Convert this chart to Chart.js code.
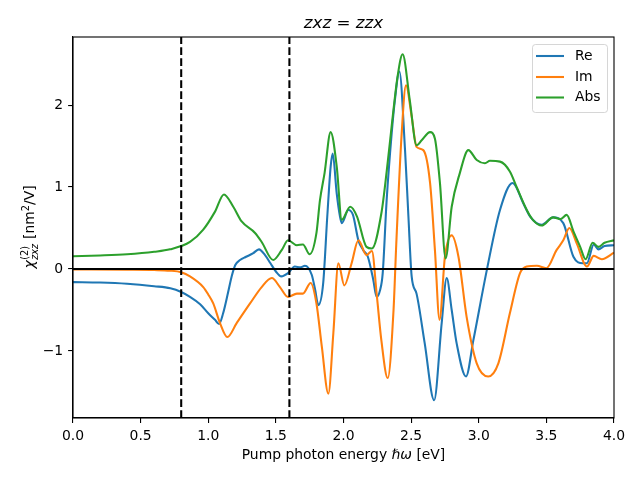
<!DOCTYPE html>
<html>
<head>
<meta charset="utf-8">
<script src="https://cdn.jsdelivr.net/npm/chart.js@4.4.1/dist/chart.umd.min.js"></script>
<style>
  body { margin: 0; background: #fff; }
  #wrap { width: 640px; height: 480px; }
</style>
</head>
<body>
<div id="wrap"><canvas id="grafica" width="640" height="480"></canvas></div>
<script>
// curvas
const reX = [0, 0.2, 0.4, 0.6, 0.72, 0.8, 0.865, 0.94, 1.0, 1.05, 1.08, 1.11, 1.146, 1.173, 1.2, 1.235, 1.28, 1.33, 1.375, 1.42, 1.46, 1.5, 1.54, 1.59, 1.64, 1.68, 1.715, 1.765, 1.79, 1.814, 1.85, 1.88, 1.905, 1.92, 1.95, 1.974, 1.987, 2.036, 2.07, 2.11, 2.146, 2.18, 2.22, 2.245, 2.27, 2.29, 2.319, 2.356, 2.38, 2.413, 2.455, 2.48, 2.504, 2.54, 2.6, 2.67, 2.726, 2.763, 2.8, 2.837, 2.906, 2.96, 3.06, 3.157, 3.25, 3.33, 3.38, 3.465, 3.55, 3.625, 3.7, 3.77, 3.8, 3.85, 3.885, 3.93, 4.0];
const reY = [-0.16, -0.165, -0.18, -0.21, -0.235, -0.28, -0.34, -0.43, -0.54, -0.62, -0.67, -0.54, -0.29, -0.09, 0.05, 0.11, 0.15, 0.19, 0.24, 0.17, 0.07, -0.03, -0.09, -0.05, 0.03, 0.02, 0.04, -0.07, -0.25, -0.44, -0.17, 0.64, 1.25, 1.41, 0.92, 0.64, 0.56, 0.72, 0.66, 0.35, 0.23, 0.15, -0.13, -0.34, -0.26, -0.05, 0.84, 1.65, 2.06, 2.41, 1.45, 0.64, -0.09, -0.30, -0.90, -1.6, -0.66, -0.11, -0.5, -0.91, -1.31, -0.87, -0.01, 0.72, 1.05, 0.80, 0.64, 0.54, 0.63, 0.56, 0.15, 0.07, 0.07, 0.30, 0.24, 0.28, 0.29];

const imX = [0, 0.4, 0.6, 0.717, 0.8, 0.865, 0.963, 1.0, 1.037, 1.087, 1.141, 1.21, 1.309, 1.395, 1.47, 1.53, 1.59, 1.655, 1.7, 1.757, 1.8, 1.84, 1.888, 1.925, 1.962, 2.006, 2.06, 2.11, 2.17, 2.21, 2.245, 2.28, 2.327, 2.37, 2.39, 2.43, 2.462, 2.504, 2.54, 2.59, 2.64, 2.676, 2.71, 2.75, 2.8, 2.85, 2.91, 2.985, 3.07, 3.145, 3.23, 3.305, 3.355, 3.43, 3.5, 3.575, 3.625, 3.67, 3.725, 3.8, 3.85, 3.91, 4.0];
const imY = [-0.005, -0.008, -0.012, -0.02, -0.04, -0.09, -0.22, -0.31, -0.42, -0.66, -0.83, -0.66, -0.42, -0.22, -0.11, -0.22, -0.34, -0.30, -0.30, -0.17, -0.42, -0.95, -1.52, -0.78, 0.07, -0.20, 0.07, 0.35, 0.17, 0.22, -0.30, -0.87, -1.33, -0.5, 0.3, 1.65, 2.24, 1.86, 1.49, 1.45, 1.05, 0.23, -0.62, 0.15, 0.41, 0.15, -0.58, -1.15, -1.31, -1.15, -0.54, -0.05, 0.03, 0.04, 0.01, 0.23, 0.35, 0.50, 0.31, 0.03, 0.16, 0.12, 0.20];

const absX = [0, 0.2, 0.4, 0.6, 0.717, 0.865, 0.963, 1.05, 1.116, 1.185, 1.247, 1.346, 1.395, 1.48, 1.543, 1.59, 1.655, 1.7, 1.75, 1.8, 1.826, 1.86, 1.905, 1.95, 1.987, 2.05, 2.1, 2.17, 2.21, 2.28, 2.32, 2.36, 2.4, 2.437, 2.49, 2.54, 2.578, 2.64, 2.676, 2.713, 2.755, 2.8, 2.86, 2.923, 2.985, 3.046, 3.083, 3.157, 3.23, 3.28, 3.355, 3.4, 3.465, 3.55, 3.605, 3.65, 3.7, 3.75, 3.79, 3.842, 3.885, 3.93, 4.0];
const absY = [0.155, 0.165, 0.18, 0.21, 0.24, 0.33, 0.48, 0.70, 0.91, 0.76, 0.58, 0.44, 0.33, 0.11, 0.23, 0.35, 0.29, 0.30, 0.18, 0.44, 0.84, 1.17, 1.67, 1.25, 0.60, 0.76, 0.64, 0.27, 0.25, 0.68, 1.2, 1.8, 2.35, 2.62, 2.06, 1.51, 1.57, 1.67, 1.59, 1.05, 0.13, 0.76, 1.17, 1.45, 1.33, 1.29, 1.32, 1.31, 1.19, 1.00, 0.72, 0.60, 0.53, 0.63, 0.61, 0.66, 0.46, 0.27, 0.12, 0.32, 0.27, 0.32, 0.35];

const lineasVerticales = [0.8, 1.6];
const xMin = 0, xMax = 4;
const yMin = -1.817, yMax = 2.83;
const xTicks = [0, 0.5, 1, 1.5, 2, 2.5, 3, 3.5, 4];
const yTicks = [-1, 0, 1, 2];

const series = [
    { label: 'Re', xs: reX, ys: reY, color: '#1f77b4', order: 3 },
    { label: 'Im', xs: imX, ys: imY, color: '#ff7f0e', order: 2 },
    { label: 'Abs', xs: absX, ys: absY, color: '#2ca02c', order: 1 }
];

const FONT = "'DejaVu Sans'";
const TICK_PX = 13.9;
const LW = 2.08;

function puntos(xs, ys) {
    return xs.map((x, i) => ({ x: x, y: ys[i] }));
}

const datasets = series.map(s => ({
    label: s.label,
    data: puntos(s.xs, s.ys),
    borderColor: s.color,
    borderWidth: LW,
    pointRadius: 0,
    cubicInterpolationMode: 'monotone',
    order: s.order
}));

datasets.push({
    label: '_cero',
    data: [{ x: xMin, y: 0 }, { x: xMax, y: 0 }],
    borderColor: '#000',
    borderWidth: LW,
    pointRadius: 0,
    order: 0
});
lineasVerticales.forEach(v => {
    datasets.push({
        label: '_v',
        data: [{ x: v, y: yMin }, { x: v, y: yMax }],
        borderColor: '#000',
        borderWidth: LW,
        borderDash: [7.7, 3.3],
        pointRadius: 0,
        order: 0
    });
});

const marcoYTextos = {
    id: 'marcoYTextos',
    afterDraw(chart) {
        const ctx = chart.ctx;
        const a = chart.chartArea;
        ctx.save();
        ctx.strokeStyle = '#000';
        ctx.lineWidth = 1.1;
        ctx.strokeRect(a.left, a.top, a.right - a.left, a.bottom - a.top);

        const cx = (a.left + a.right) / 2;
        ctx.fillStyle = '#000';
        ctx.textBaseline = 'alphabetic';
        ctx.textAlign = 'left';

        // titulo
        const tSize = 16.7;
        const partesT = [['zxz', 'italic'], [' = ', 'normal'], ['zzx', 'italic']];
        let total = 0;
        partesT.forEach(p => { ctx.font = `${p[1]} ${tSize}px ${FONT}`; total += ctx.measureText(p[0]).width; });
        let x = cx - total / 2;
        partesT.forEach(p => { ctx.font = `${p[1]} ${tSize}px ${FONT}`; ctx.fillText(p[0], x, 28); x += ctx.measureText(p[0]).width; });

        // etiqueta eje x
        const partesX = [['Pump photon energy ', 'normal'], ['ℏω', 'italic'], [' [eV]', 'normal']];
        total = 0;
        partesX.forEach(p => { ctx.font = `${p[1]} ${TICK_PX}px ${FONT}`; total += ctx.measureText(p[0]).width; });
        x = cx - total / 2;
        partesX.forEach(p => { ctx.font = `${p[1]} ${TICK_PX}px ${FONT}`; ctx.fillText(p[0], x, 459); x += ctx.measureText(p[0]).width; });

        // etiqueta eje y
        const cy = (a.top + a.bottom) / 2;
        const small = TICK_PX * 0.7;
        ctx.translate(34, cy);
        ctx.rotate(-Math.PI / 2);
        ctx.font = `italic ${TICK_PX}px ${FONT}`;
        const wChi = ctx.measureText('χ').width;
        ctx.font = `normal ${small}px ${FONT}`;
        const wSup = ctx.measureText('(2)').width;
        ctx.font = `italic ${small}px ${FONT}`;
        const wSub = ctx.measureText('zxz').width;
        ctx.font = `normal ${TICK_PX}px ${FONT}`;
        const wA = ctx.measureText(' [nm').width;
        const wB = ctx.measureText('/V]').width;
        ctx.font = `normal ${small}px ${FONT}`;
        const w2 = ctx.measureText('2').width;
        total = wChi + Math.max(wSup, wSub) + wA + w2 + wB;
        x = -total / 2;
        ctx.font = `italic ${TICK_PX}px ${FONT}`;
        ctx.fillText('χ', x, 0);
        x += wChi;
        ctx.font = `normal ${small}px ${FONT}`;
        ctx.fillText('(2)', x + 0.5, -6.5);
        ctx.font = `italic ${small}px ${FONT}`;
        ctx.fillText('zxz', x + 0.5, 3.5);
        x += Math.max(wSup, wSub) + 1;
        ctx.font = `normal ${TICK_PX}px ${FONT}`;
        ctx.fillText(' [nm', x, 0);
        x += wA;
        ctx.font = `normal ${small}px ${FONT}`;
        ctx.fillText('2', x, -5.5);
        x += w2;
        ctx.font = `normal ${TICK_PX}px ${FONT}`;
        ctx.fillText('/V]', x, 0);
        ctx.restore();

        // leyenda
        ctx.save();
        const lx = 532.5, ly = 44.5, lw = 75, lh = 68;
        ctx.beginPath();
        ctx.roundRect(lx, ly, lw, lh, 3);
        ctx.fillStyle = 'rgba(255,255,255,0.8)';
        ctx.fill();
        ctx.strokeStyle = 'rgba(204,204,204,0.8)';
        ctx.lineWidth = 1;
        ctx.stroke();
        const filas = [56, 77, 97.5];
        series.forEach((s, i) => {
            ctx.beginPath();
            ctx.moveTo(536, filas[i]);
            ctx.lineTo(564, filas[i]);
            ctx.strokeStyle = s.color;
            ctx.lineWidth = LW;
            ctx.stroke();
            ctx.fillStyle = '#000';
            ctx.font = `normal ${TICK_PX}px ${FONT}`;
            ctx.textBaseline = 'middle';
            ctx.fillText(s.label, 575, filas[i]);
        });
        ctx.restore();
    }
};

const ctx = document.getElementById('grafica').getContext('2d');
const chart = new Chart(ctx, {
    type: 'line',
    data: { datasets: datasets },
    options: {
        responsive: false,
        animation: false,
        events: [],
        layout: { padding: { top: 37, right: 26, left: 0, bottom: 0 } },
        plugins: {
            legend: { display: false },
            title: { display: false },
            tooltip: { enabled: false }
        },
        scales: {
            x: {
                type: 'linear',
                min: xMin,
                max: xMax,
                afterBuildTicks: scale => { scale.ticks = xTicks.map(v => ({ value: v })); },
                afterFit: scale => { scale.height = 62; },
                ticks: {
                    color: '#000',
                    padding: 4.9,
                    maxRotation: 0,
                    font: { family: 'DejaVu Sans', size: TICK_PX },
                    callback: v => v.toFixed(1)
                },
                grid: { drawOnChartArea: false, tickLength: 4.9, color: '#000', lineWidth: 1.1 },
                border: { display: true, color: '#000', width: 1.1 }
            },
            y: {
                type: 'linear',
                min: yMin,
                max: yMax,
                afterBuildTicks: scale => { scale.ticks = yTicks.map(v => ({ value: v })); },
                afterFit: scale => { scale.width = 73; },
                ticks: {
                    color: '#000',
                    padding: 4.9,
                    font: { family: 'DejaVu Sans', size: TICK_PX },
                    callback: v => (v < 0 ? '\u2212' + Math.abs(v) : String(v))
                },
                grid: { drawOnChartArea: false, tickLength: 4.9, color: '#000', lineWidth: 1.1 },
                border: { display: true, color: '#000', width: 1.1 }
            }
        }
    },
    plugins: [marcoYTextos]
});
</script>
</body>
</html>
